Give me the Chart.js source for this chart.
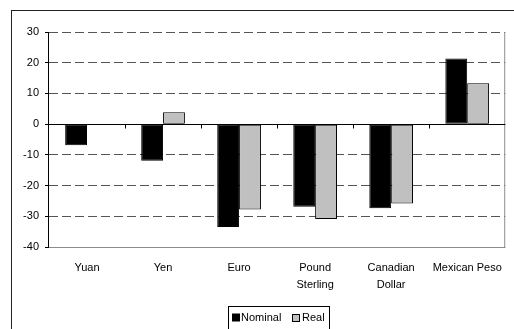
<!DOCTYPE html>
<html>
<head>
<meta charset="utf-8">
<script src="https://cdn.jsdelivr.net/npm/chart.js@4/dist/chart.umd.min.js"></script>
<style>
  html, body { margin: 0; padding: 0; background: #fff; }
  #wrap { width: 514px; height: 329px; position: relative; }
</style>
</head>
<body>
<div id="wrap"><canvas id="c" width="514" height="329"></canvas></div>
<script>
// Currency change, percent
const categories = ['Yuan', 'Yen', 'Euro', ['Pound', 'Sterling'], ['Canadian', 'Dollar'], 'Mexican Peso'];
const nominal = [-6.9, -11.9, -33.5, -26.9, -27.4, 21.4];
const real = [-0.3, 3.9, -27.8, -30.9, -25.8, 13.3];
const yTicks = [30, 20, 10, 0, -10, -20, -30, -40];

const FONT = { family: '"Liberation Sans", Arial, sans-serif', size: 11 };

// Frame around the figure, plot-area border, axes and legend
const decorations = {
  id: 'decorations',
  beforeDraw(chart) {
    const ctx = chart.ctx;
    ctx.save();
    ctx.fillStyle = '#fff';
    ctx.fillRect(0, 0, chart.width, chart.height);
    ctx.strokeStyle = '#222';
    ctx.lineWidth = 1;
    ctx.strokeRect(11.5, 10.5, 520, 340);
    ctx.restore();
  },
  beforeDatasetsDraw(chart) {
    const { ctx, chartArea: a } = chart;
    ctx.save();
    ctx.strokeStyle = '#8c8c8c';
    ctx.lineWidth = 1;
    ctx.beginPath();
    ctx.moveTo(a.right - 0.5, a.top);
    ctx.lineTo(a.right - 0.5, Math.round(a.bottom) + 0.5);
    ctx.lineTo(a.left, Math.round(a.bottom) + 0.5);
    ctx.stroke();
    ctx.restore();
  },
  afterDatasetsDraw(chart) {
    const { ctx, chartArea: a, scales } = chart;
    const y0 = Math.round(scales.y.getPixelForValue(0)) + 0.5;
    ctx.save();
    ctx.strokeStyle = '#000';
    ctx.lineWidth = 1;
    ctx.beginPath();
    // value axis
    const xl = Math.round(a.left) - 0.5;
    ctx.moveTo(xl, a.top);
    ctx.lineTo(xl, Math.round(a.bottom) + 1);
    // category axis at zero
    ctx.moveTo(a.left, y0);
    ctx.lineTo(a.right, y0);
    const n = categories.length;
    const step = (a.right - a.left) / n;
    for (let i = 1; i < n; i++) {
      const x = Math.round(a.left + step * i) + 0.5;
      ctx.moveTo(x, y0 - 0.5);
      ctx.lineTo(x, y0 + 4);
    }
    ctx.stroke();

    // legend
    ctx.strokeRect(228.5, 306.5, 101, 40);
    ctx.font = `${FONT.size}px ${FONT.family}`;
    ctx.textBaseline = 'middle';
    const ds = chart.data.datasets;
    ctx.fillStyle = ds[0].backgroundColor;
    ctx.fillRect(232.5, 314, 7, 7);
    ctx.strokeRect(232.5, 314, 7, 7);
    ctx.fillStyle = '#000';
    ctx.fillText(ds[0].label, 241, 318);
    ctx.fillStyle = ds[1].backgroundColor;
    ctx.fillRect(292.5, 314.5, 7, 7);
    ctx.strokeRect(292.5, 314.5, 7, 7);
    ctx.fillStyle = '#000';
    ctx.fillText(ds[1].label, 302, 318);
    ctx.restore();
  }
};

new Chart(document.getElementById('c'), {
  type: 'bar',
  data: {
    labels: categories,
    datasets: [
      { label: 'Nominal', data: nominal, backgroundColor: '#000000', borderColor: '#000', borderWidth: 1, borderSkipped: false },
      { label: 'Real', data: real, backgroundColor: '#c0c0c0', borderColor: '#000', borderWidth: 1, borderSkipped: false }
    ]
  },
  options: {
    responsive: false,
    animation: false,
    devicePixelRatio: 1,
    layout: { padding: { top: 32, right: 3, left: 0, bottom: 0 } },
    datasets: { bar: { barPercentage: 1, categoryPercentage: 0.575 } },
    plugins: { legend: { display: false }, tooltip: { enabled: false } },
    scales: {
      x: {
        grid: { display: false, drawTicks: false },
        border: { display: false },
        ticks: { color: '#000', font: { ...FONT, lineHeight: 1.55 }, padding: 12, maxRotation: 0, autoSkip: false },
        afterFit(s) { s.height = 82; }
      },
      y: {
        min: -40,
        max: 30,
        afterBuildTicks(s) { s.ticks = yTicks.map(v => ({ value: v })); },
        grid: {
          color: '#555',
          lineWidth: 1,
          tickColor: '#000',
          tickLength: 4
        },
        border: { display: false, dash: [9, 4] },
        ticks: { color: '#000', font: FONT, padding: 6 },
        afterFit(s) { s.width = 49; }
      }
    }
  },
  plugins: [decorations]
});
</script>
</body>
</html>
